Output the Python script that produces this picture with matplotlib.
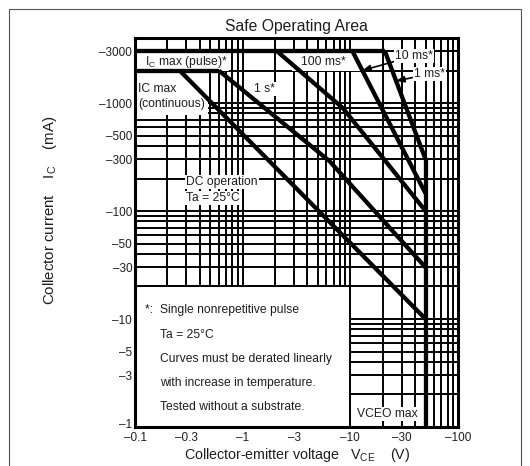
import numpy as np
import matplotlib
matplotlib.use('Agg')
import matplotlib.pyplot as plt
import matplotlib.transforms as mtransforms
from matplotlib.patches import Rectangle

plt.rcParams.update({
    'font.family': ['Liberation Sans', 'DejaVu Sans'],
    'mathtext.fontset': 'custom',
    'mathtext.rm': 'Liberation Sans',
    'font.size': 8.7,
})

TXT = '#1e1e1e'

# limits (V) and currents (mA); plotted as magnitudes
VCEO = 50
IC_PULSE = 3000
IC_CONT = 2000

pulse_v = [0.1, 21]
pulse_i = [IC_PULSE, IC_PULSE]
cont_v = [0.1, 0.6]
cont_i = [IC_CONT, IC_CONT]
dc_v = [0.26, 50]
dc_i = [2000, 10]
s1_v = [0.6, 6.4, 50]
s1_i = [2000, 290, 30]
ms100_v = [2.1, 8.5, 50]
ms100_i = [3000, 900, 100]
ms10_v = [10.5, 50]
ms10_i = [3000, 145]
ms1_v = [21, 50]
ms1_i = [3000, 300]
vceo_v = [VCEO, VCEO]
vceo_i = [300, 1]

x_ticks = [0.1, 0.3, 1, 3, 10, 30, 100]
y_ticks = [1, 3, 5, 10, 30, 50, 100, 300, 500, 1000, 3000]

notes = ['Ta = 25\u00b0C',
         'Curves must be derated linearly',
         'with increase in temperature.',
         'Tested without a substrate.']

fig = plt.figure(figsize=(5.3, 4.66), dpi=100)
ax = fig.add_axes([135 / 530, 1 - 427 / 466, 323 / 530, 389 / 466])
ax.set_xscale('log')
ax.set_yscale('log')
ax.set_xlim(0.1, 100)
ax.set_ylim(1, 4000)

# log grid (1..9 per decade)
gx = [m * 10.0 ** e for e in (-1, 0, 1) for m in range(1, 10)][1:]
gy = [m * 10.0 ** e for e in range(0, 4) for m in range(1, 10)][1:]
gy = [g for g in gy if g < 4000]
ax.vlines(gx, 1, 4000, colors='black', lw=1.4, zorder=1)
ax.hlines(gy, 0.1, 100, colors='black', lw=1.4, zorder=1)

# blank label areas
for (x0, x1, y0, y1) in [(0.1, 0.75, 2000, 3000), (0.1, 0.48, 780, 2000),
                         (2.85, 13, 2000, 3000)]:
    ax.add_patch(Rectangle((x0, y0), x1 - x0, y1 - y0, facecolor='white',
                           edgecolor='none', zorder=2))
ax.add_patch(Rectangle((0.1, 1), 10 - 0.1, 20 - 1, facecolor='white',
                       edgecolor='black', lw=1.4, zorder=2))

# curves
kw = dict(color='black', lw=3.1, solid_capstyle='butt', zorder=4)
for v, i in [(pulse_v, pulse_i), (cont_v, cont_i), (dc_v, dc_i), (s1_v, s1_i),
             (ms100_v, ms100_i), (ms10_v, ms10_i), (ms1_v, ms1_i), (vceo_v, vceo_i)]:
    ax.plot(v, i, **kw)

wb = dict(facecolor='white', edgecolor='none', pad=1.0)
ax.text(0.123, 2420, 'I$_\\mathregular{C}$ max (pulse)*', ha='left', va='center', color=TXT, zorder=6)
ax.text(0.1066, 1150, 'IC max\n(continuous)', ha='left', va='center', color=TXT,
        linespacing=1.25, zorder=6)
ax.text(1.61, 1346, '1 s*', ha='center', va='center', color=TXT, bbox=wb, zorder=6)
ax.text(5.57, 2420, '100 ms*', ha='center', va='center', color=TXT, zorder=6)
arw = dict(arrowstyle='-|>,head_length=0.55,head_width=0.22', color='black', lw=1.2,
           shrinkA=0, shrinkB=0)
ax.annotate('10 ms*', xy=(12.9, 2000), xytext=(26.1, 2730), ha='left', va='center',
            color=TXT, bbox=wb, arrowprops=arw, zorder=6)
ax.annotate('1 ms*', xy=(26.6, 1600), xytext=(38.9, 1855), ha='left', va='center',
            color=TXT, bbox=wb, arrowprops=arw, zorder=6)
ax.text(0.298, 186, 'DC operation', ha='left', va='center', color=TXT, bbox=wb, zorder=6)
ax.text(0.298, 132, 'Ta = 25\u00b0C', ha='left', va='center', color=TXT, bbox=wb, zorder=6)
ax.text(11.5, 1.32, 'VCEO max', ha='left', va='center', color=TXT, bbox=wb, zorder=6)

ax.text(0.031, 0.301, '*:  Single nonrepetitive pulse', transform=ax.transAxes,
        ha='left', va='center', color=TXT, zorder=6)
for k, line in enumerate(notes):
    ax.text(0.077, 0.2365 - k * 0.0617, line, transform=ax.transAxes,
            ha='left', va='center', color=TXT, zorder=6)

ax.set_xticks(x_ticks)
ax.set_xticklabels(['\u2013%g' % v for v in x_ticks])
ax.set_yticks(y_ticks)
ax.set_yticklabels(['\u2013%g' % v for v in y_ticks])
ax.minorticks_off()
ax.tick_params(length=0, labelsize=8.5, labelcolor=TXT)
ax.tick_params(axis='x', pad=3.5)
ax.tick_params(axis='y', pad=2)
# lift the bottom y label a little so it clears the x labels
lbl = ax.get_yticklabels()[0]
lbl.set_transform(lbl.get_transform() + mtransforms.ScaledTranslation(0, 4 / 100, fig.dpi_scale_trans))
for s in ax.spines.values():
    s.set_linewidth(2.2)
    s.set_zorder(7)

ax.set_title('Safe Operating Area', fontsize=11.3, color=TXT, pad=5)
ax.set_xlabel('Collector-emitter voltage   V$_\\mathregular{CE}$    (V)', fontsize=10.3, color=TXT)
ax.xaxis.set_label_coords(0.5015, -0.048)
ax.set_ylabel('Collector current    I$_\\mathregular{C}$    (mA)', fontsize=10.8, color=TXT)
ax.yaxis.set_label_coords(-0.235, 0.558)

fig.patches.append(Rectangle((9 / 530, -0.02), 512 / 530, 1.02 - 9 / 466,
                             transform=fig.transFigure, facecolor='none',
                             edgecolor='#555555', lw=0.8))

fig.savefig('out.png', dpi=100)
